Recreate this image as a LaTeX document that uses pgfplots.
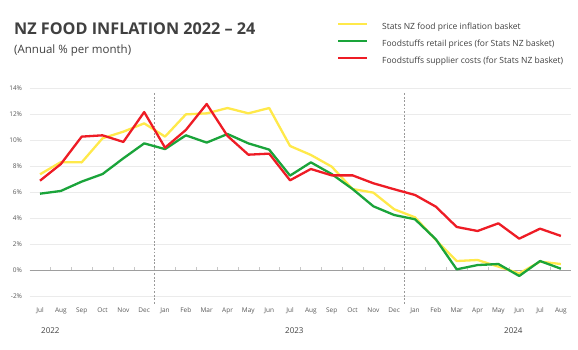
\documentclass[border=0pt]{standalone}
\usepackage{fontspec}
\setmainfont{Open Sans}
\usepackage{pgfplots}
\pgfplotsset{compat=1.18}
\definecolor{cyel}{HTML}{FFE94A}
\definecolor{cgrn}{HTML}{1AA43A}
\definecolor{cred}{HTML}{EE1C25}
\definecolor{ctxt}{HTML}{404040}
\definecolor{ctick}{HTML}{595959}
\begin{document}
\begin{tikzpicture}[x=1pt,y=1pt]
\useasboundingbox[fill=white] (0,0) rectangle (578,350);
\node[anchor=base west, font=\bfseries\fontsize{16.2}{18}\selectfont, text=ctxt, inner sep=0pt] at (14,315) {NZ FOOD INFLATION 2022 – 24};
\node[anchor=base west, font=\fontsize{11.5}{13}\selectfont, text=ctxt, inner sep=0pt] at (14,296.7) {(Annual \% per month)};
\begin{axis}[
  at={(29.6pt,54pt)}, anchor=south west, scale only axis,
  width=541.7pt, height=208pt,
  xmin=-0.5, xmax=25.5, ymin=-2, ymax=14,
  axis line style={draw=none},
  major tick length=0pt,
  clip=false,
  xtick={0,...,25},
  xticklabels={Jul,Aug,Sep,Oct,Nov,Dec,Jan,Feb,Mar,Apr,May,Jun,Jul,Aug,Sep,Oct,Nov,Dec,Jan,Feb,Mar,Apr,May,Jun,Jul,Aug},
  ytick={-2,0,...,14},
  yticklabel={\pgfmathprintnumber{\tick}\%},
  /pgf/number format/assume math mode=true,
  ymajorgrids, grid style={color=black!8, line width=0.6pt},
  tick label style={font=\fontsize{6.5}{7.5}\selectfont, text=ctick},
  xticklabel style={yshift=-8.5pt},
  yticklabel style={xshift=-4pt},
  legend style={draw=none, fill=none, inner sep=0pt, outer sep=0pt,
    at={(axis description cs:0.5675,1.322)}, anchor=north west,
    font=\fontsize{8.5}{9.5}\selectfont, text=ctxt,
    row sep=5pt},
  legend cell align=left,
  legend image code/.code={\draw[#1, line width=2pt] (0pt,2.8pt) -- (29pt,2.8pt); \path (41pt,2.8pt);},
]
\draw[color=black!38, line width=0.9pt] (axis cs:-0.5,0) -- (axis cs:25.5,0);
\pgfplotsinvokeforeach{0,...,24}{\draw[color=black!22, line width=0.5pt] (axis cs:#1.5,0) -- ++(0pt,2.5pt);}
\draw[color=black!40, line width=0.6pt, dash pattern=on 1.8pt off 1.8pt] (axis cs:5.5,13.6) -- (axis cs:5.5,-2.7);
\draw[color=black!40, line width=0.6pt, dash pattern=on 1.8pt off 1.8pt] (axis cs:17.5,13.6) -- (axis cs:17.5,-2.7);
\addplot[cyel, line width=2.3pt, line join=round] coordinates {
(0,7.36) (1,8.30) (2,8.28) (3,10.13) (4,10.64) (5,11.28) (6,10.26) (7,11.97) (8,12.05) (9,12.46) (10,12.05) (11,12.46) (12,9.54) (13,8.85) (14,7.95) (15,6.23) (16,5.95) (17,4.67) (18,4.05) (19,2.31) (20,0.69) (21,0.77) (22,0.26) (23,-0.26) (24,0.64) (25,0.46)};
\addlegendentry{Stats NZ food price inflation basket}
\addplot[cgrn, line width=2.3pt, line join=round] coordinates {
(0,5.87) (1,6.08) (2,6.80) (3,7.38) (4,8.59) (5,9.74) (6,9.30) (7,10.36) (8,9.80) (9,10.46) (10,9.74) (11,9.26) (12,7.26) (13,8.28) (14,7.38) (15,6.23) (16,4.90) (17,4.23) (18,3.90) (19,2.36) (20,0.05) (21,0.38) (22,0.46) (23,-0.46) (24,0.69) (25,0.10)};
\addlegendentry{Foodstuffs retail prices (for Stats NZ basket)}
\addplot[cred, line width=2.3pt, line join=round] coordinates {
(0,6.87) (1,8.15) (2,10.26) (3,10.36) (4,9.85) (5,12.15) (6,9.41) (7,10.77) (8,12.77) (9,10.31) (10,8.87) (11,8.95) (12,6.90) (13,7.77) (14,7.28) (15,7.28) (16,6.67) (17,6.21) (18,5.77) (19,4.87) (20,3.31) (21,3.00) (22,3.59) (23,2.41) (24,3.18) (25,2.62)};
\addlegendentry{Foodstuffs supplier costs (for Stats NZ basket)}
\end{axis}
\node[anchor=base west, font=\fontsize{8}{9}\selectfont, text=ctxt, inner sep=0pt] at (41,16) {2022};
\node[anchor=base west, font=\fontsize{8}{9}\selectfont, text=ctxt, inner sep=0pt] at (285,16) {2023};
\node[anchor=base west, font=\fontsize{8}{9}\selectfont, text=ctxt, inner sep=0pt] at (504,16) {2024};
\end{tikzpicture}
\end{document}
